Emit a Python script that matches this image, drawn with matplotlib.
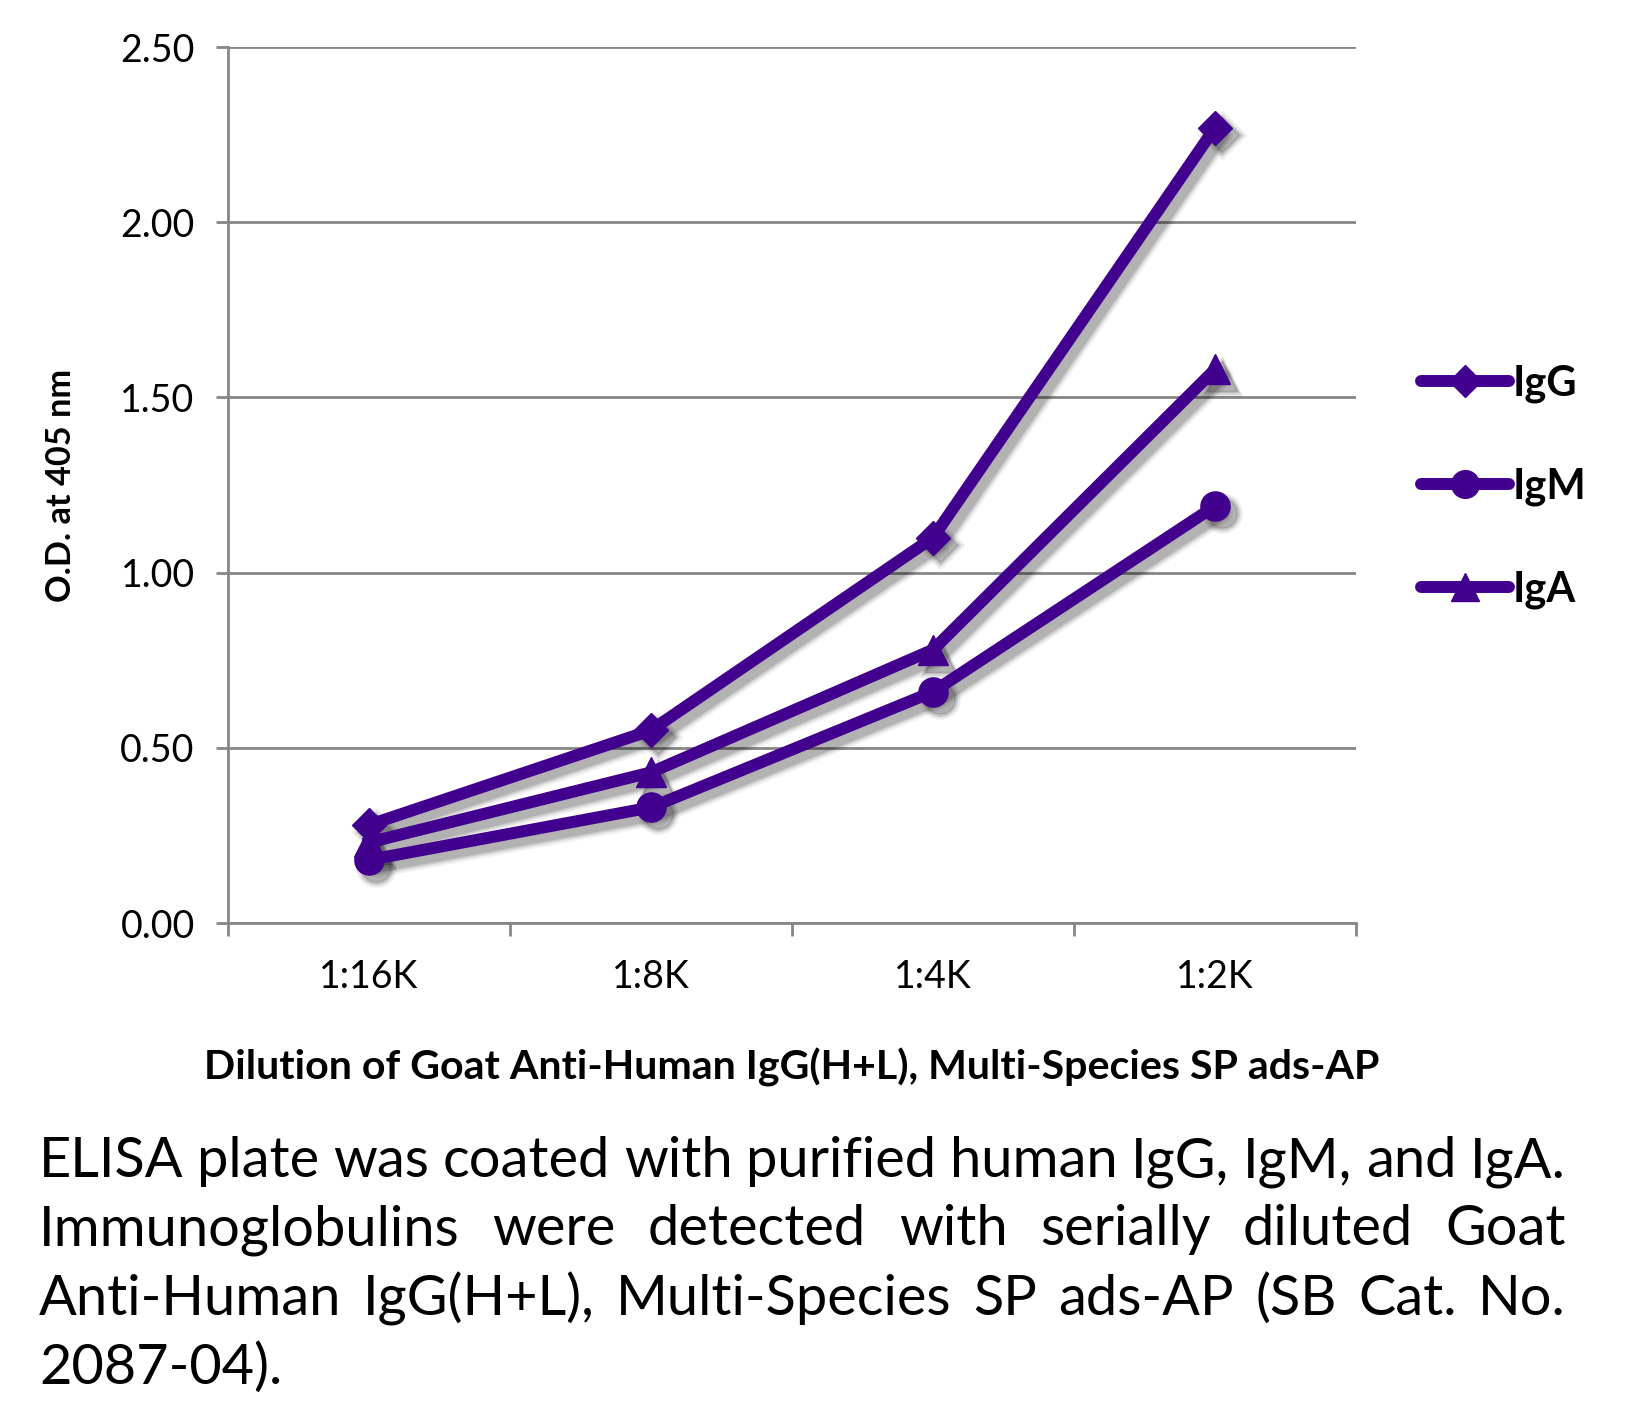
"""ELISA titration chart - Goat Anti-Human IgG(H+L), Multi-Species SP ads-AP."""

import matplotlib
matplotlib.use("Agg")
import matplotlib.pyplot as plt
from matplotlib.lines import Line2D
from matplotlib.transforms import offset_copy

###################################################################################################
###################################################################################################

dilutions = ["1:16K", "1:8K", "1:4K", "1:2K"]
igg = [0.28, 0.55, 1.10, 2.27]
igm = [0.18, 0.33, 0.66, 1.19]
iga = [0.23, 0.43, 0.78, 1.58]
series_names = ["IgG", "IgM", "IgA"]
series_markers = ["D", "o", "^"]
marker_sizes = [17, 21, 21]
yticks = [0.0, 0.5, 1.0, 1.5, 2.0, 2.5]

caption_lines = [
    "ELISA plate was coated with purified human IgG, IgM, and IgA.",
    "Immunoglobulins were detected with serially diluted Goat",
    "Anti-Human IgG(H+L), Multi-Species SP ads-AP (SB Cat. No.",
    "2087-04).",
]

PURPLE = "#42008f"
GRID = "#868686"

plt.rcParams["font.family"] = ["Lato", "DejaVu Sans"]


def fit_size(txt, target_px, renderer, horizontal=True):
    """Rescale a text so its long side spans target_px."""
    bb = txt.get_window_extent(renderer)
    cur = bb.width if horizontal else bb.height
    txt.set_fontsize(txt.get_fontsize() * target_px / cur)


fig = plt.figure(figsize=(16.26, 14.03), dpi=100)
ax = fig.add_axes([0.1402, 0.3421, 0.6938, 0.6244])

x = list(range(len(dilutions)))
series = [igg, igm, iga]

# Soft drop shadows, faked with a few stacked translucent layers
for vals, mk, ms in zip(series, series_markers, marker_sizes):
    for extra, alpha in [(10, 0.05), (6, 0.07), (3, 0.09), (0, 0.12)]:
        tr = offset_copy(ax.transData, fig=fig, x=7, y=-7, units="dots")
        ax.plot(x, vals, color="#000000", alpha=alpha, lw=8.6 + extra * 0.72,
                marker=mk, ms=ms + extra * 0.72, solid_capstyle="round",
                transform=tr, zorder=2, clip_on=False)

for vals, mk, ms in zip(series, series_markers, marker_sizes):
    ax.plot(x, vals, color=PURPLE, lw=8.6, marker=mk, ms=ms,
            solid_joinstyle="round", zorder=3, clip_on=False)

ax.set_xlim(-0.5, 3.5)
ax.set_ylim(0, 2.5)
ax.set_yticks(yticks)
ax.set_yticklabels(["%.2f" % v for v in yticks])
ax.set_xticks(x)
ax.set_xticklabels(dilutions)
ax.set_xticks([-0.5, 0.5, 1.5, 2.5, 3.5], minor=True)

ax.grid(axis="y", color=GRID, lw=2)
ax.set_axisbelow(True)
for side in ["top", "right"]:
    ax.spines[side].set_visible(False)
for side in ["left", "bottom"]:
    ax.spines[side].set_color(GRID)
    ax.spines[side].set_linewidth(2)

ax.tick_params(axis="y", length=9, width=2, color=GRID, labelsize=27, pad=15)
ax.tick_params(axis="x", which="major", length=0, labelsize=27, pad=26)
ax.tick_params(axis="x", which="minor", length=9, width=2, color=GRID)

ylab = ax.set_ylabel("O.D. at 405 nm", fontsize=24, fontweight="bold", labelpad=31)
xlab = ax.set_xlabel("Dilution of Goat Anti-Human IgG(H+L), Multi-Species SP ads-AP",
                     fontsize=24, fontweight="bold", labelpad=38)

# Legend off to the right
handles = [Line2D([0], [0], color=PURPLE, lw=8.6, marker=mk, ms=ms * 0.95,
                  solid_capstyle="round")
           for mk, ms in zip(series_markers, marker_sizes)]
fig.legend(handles, series_names, loc="upper left", bbox_to_anchor=(0.851, 0.767),
           frameon=False, handlelength=2.1, handletextpad=0.1, labelspacing=1.55,
           prop={"size": 30, "weight": "bold"})

fig.canvas.draw()
renderer = fig.canvas.get_renderer()
fit_size(ylab, 233, renderer, horizontal=False)
fit_size(xlab, 1177, renderer)

# Justified caption
left_px, right_px = 39, 1566
baselines = [1177, 1245, 1315, 1384]
H = fig.bbox.height
probe = fig.text(0, 0, caption_lines[0], fontsize=30)
fit_size(probe, right_px - left_px, renderer)
cap_size = probe.get_fontsize()
probe.remove()

for i, (line, base) in enumerate(zip(caption_lines, baselines)):
    words = line.split(" ")
    texts = [fig.text(0, 0, w, fontsize=cap_size, va="baseline", ha="left",
                      transform=None) for w in words]
    widths = [t.get_window_extent(renderer).width for t in texts]
    if i == len(caption_lines) - 1:
        space = 0.25 * cap_size
    else:
        space = (right_px - left_px - sum(widths)) / (len(words) - 1)
    xpos = left_px
    for t, w in zip(texts, widths):
        t.set_position((xpos, H - base))
        xpos += w + space

fig.savefig("out.png", dpi=100, facecolor="white")
